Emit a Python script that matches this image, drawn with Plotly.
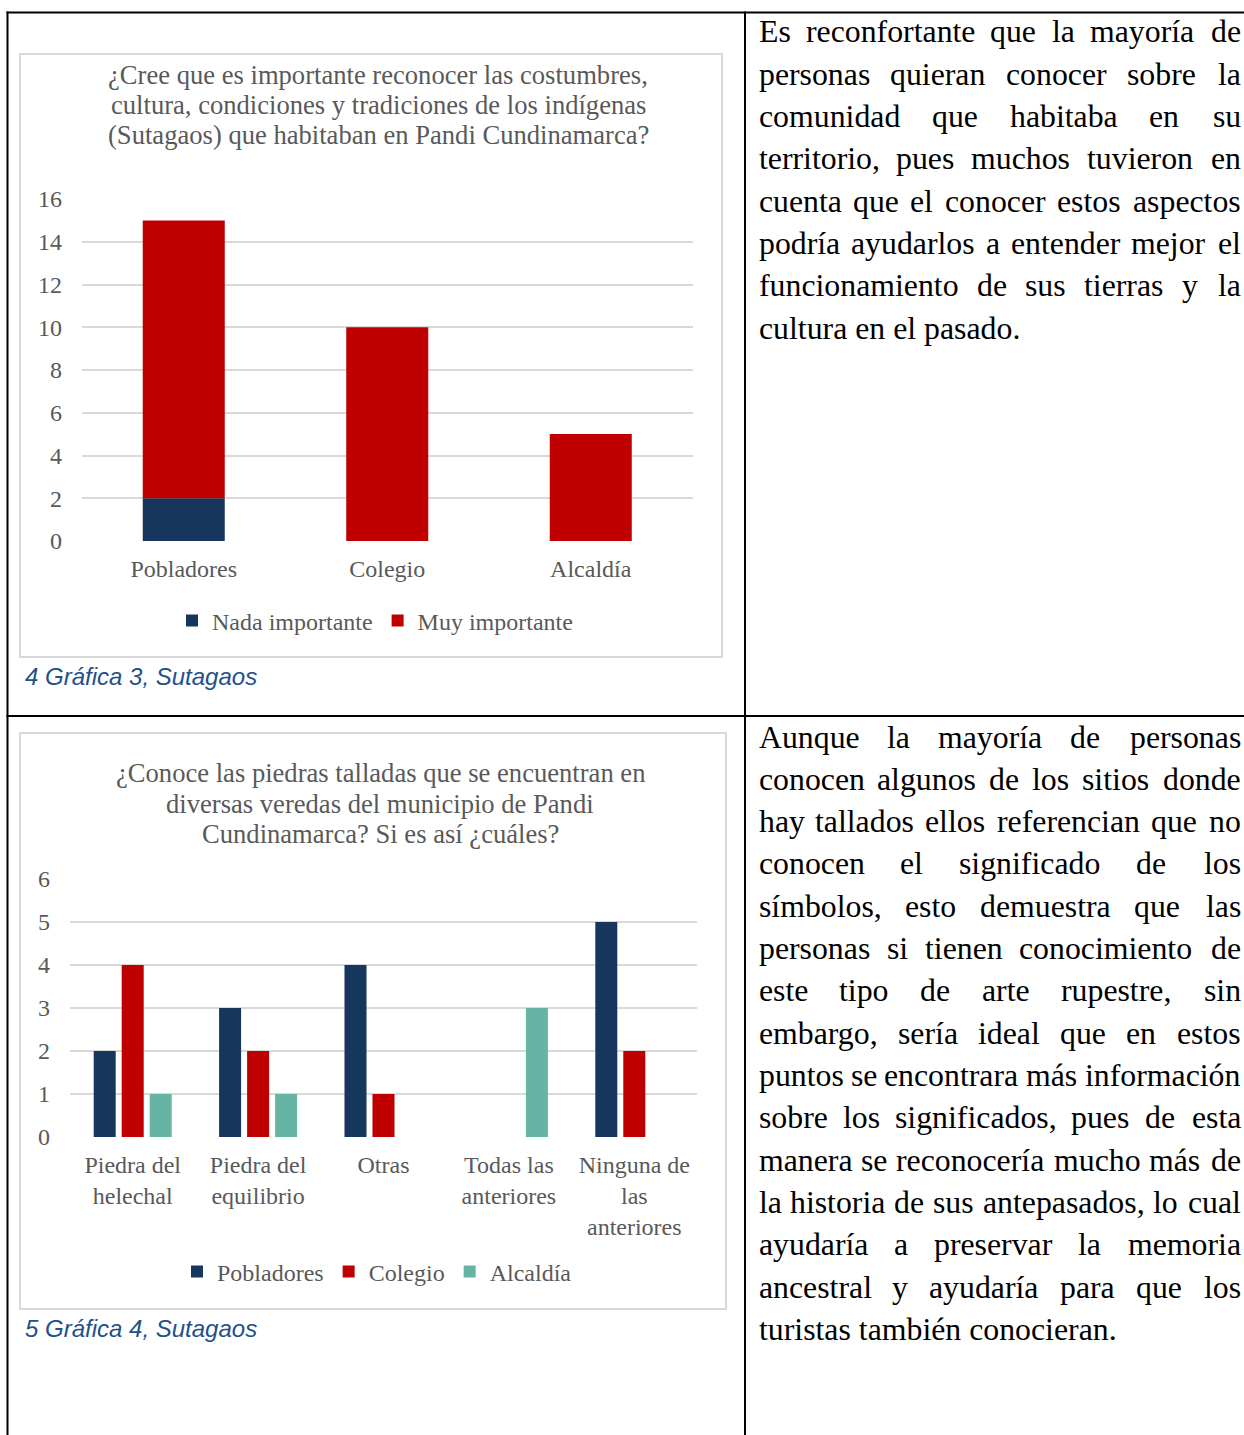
import plotly.graph_objects as go

W, H = 1244, 1435

def px(x):
    return x / W

def py(y):
    return 1 - y / H

# ---------------- data ----------------
# Chart 1 (Gráfica 3)
title1_lines = [
    "¿Cree que es importante reconocer las costumbres,",
    "cultura, condiciones y tradiciones de los indígenas",
    "(Sutagaos) que habitaban en Pandi Cundinamarca?",
]
cats1 = ["Pobladores", "Colegio", "Alcaldía"]
nada_importante = [2, 0, 0]
muy_importante = [13, 10, 5]
y1_ticks = [0, 2, 4, 6, 8, 10, 12, 14, 16]
caption1 = "4 Gráfica 3, Sutagaos"

# Chart 2 (Gráfica 4)
title2_lines = [
    "¿Conoce las piedras talladas que se encuentran en",
    "diversas veredas del municipio de Pandi",
    "Cundinamarca? Si es así ¿cuáles?",
]
cats2 = ["Piedra del<br>helechal", "Piedra del<br>equilibrio", "Otras",
         "Todas las<br>anteriores", "Ninguna de<br>las<br>anteriores"]
pobladores = [2, 3, 4, 0, 5]
colegio = [4, 2, 1, 0, 2]
alcaldia = [1, 1, 0, 3, 0]
y2_ticks = [0, 1, 2, 3, 4, 5, 6]
caption2 = "5 Gráfica 4, Sutagaos"

# Body text (justified lines)
para1 = [
    "Es reconfortante que la mayoría de",
    "personas quieran conocer sobre la",
    "comunidad que habitaba en su",
    "territorio, pues muchos tuvieron en",
    "cuenta que el conocer estos aspectos",
    "podría ayudarlos a entender mejor el",
    "funcionamiento de sus tierras y la",
    "cultura en el pasado.",
]
para2 = [
    "Aunque la mayoría de personas",
    "conocen algunos de los sitios donde",
    "hay tallados ellos referencian que no",
    "conocen el significado de los",
    "símbolos, esto demuestra que las",
    "personas si tienen conocimiento de",
    "este tipo de arte rupestre, sin",
    "embargo, sería ideal que en estos",
    "puntos se encontrara más información",
    "sobre los significados, pues de esta",
    "manera se reconocería mucho más de",
    "la historia de sus antepasados, lo cual",
    "ayudaría a preservar la memoria",
    "ancestral y ayudaría para que los",
    "turistas también conocieran.",
]

# ---------------- styles ----------------
NAVY = "#17365D"
RED = "#C00000"
TEAL = "#66B5A4"
GRAY_TXT = "#595959"
GRID = "#D9D9D9"
SERIF = "Liberation Serif, Times New Roman, serif"
SANS = "Liberation Sans, Arial, sans-serif"
CAP_COLOR = "#24508A"

fig = go.Figure()

# Chart 1: stacked bars (explicit base)
bw1 = 0.403
fig.add_trace(go.Bar(x=cats1, y=nada_importante, name="Nada importante",
                     marker=dict(color=NAVY, line=dict(width=0)),
                     width=bw1, offset=-bw1 / 2, offsetgroup="s",
                     xaxis="x", yaxis="y", legend="legend"))
fig.add_trace(go.Bar(x=cats1, y=muy_importante, base=nada_importante, name="Muy importante",
                     marker=dict(color=RED, line=dict(width=0)),
                     width=bw1, offset=-bw1 / 2, offsetgroup="s",
                     xaxis="x", yaxis="y", legend="legend"))

# Chart 2: grouped bars
for name, vals, col in [("Pobladores", pobladores, NAVY),
                        ("Colegio", colegio, RED),
                        ("Alcaldía", alcaldia, TEAL)]:
    fig.add_trace(go.Bar(x=cats2, y=vals, name=name,
                         marker=dict(color=col, line=dict(width=0)),
                         xaxis="x2", yaxis="y2", legend="legend2"))

axis_font = dict(family=SERIF, size=24, color=GRAY_TXT)

fig.update_layout(
    width=W, height=H,
    margin=dict(l=0, r=0, t=0, b=0, pad=0, autoexpand=False),
    paper_bgcolor="white", plot_bgcolor="white",
    barmode="group", bargap=0.33, bargroupgap=0.214,
    showlegend=True,
    xaxis=dict(domain=[px(82), px(692.5)], anchor="y", type="category",
               showgrid=False, zeroline=False, showline=False, ticks="",
               tickfont=axis_font, ticklabelstandoff=11, automargin=False),
    yaxis=dict(domain=[py(541), py(199)], anchor="x", range=[0, 16],
               tickvals=y1_ticks, showgrid=True, gridcolor=GRID, gridwidth=1.5,
               zeroline=False, showline=False, ticks="",
               tickfont=axis_font, ticklabelstandoff=19, automargin=False),
    xaxis2=dict(domain=[px(70), px(697)], anchor="y2", type="category",
                showgrid=False, zeroline=False, showline=False, ticks="",
                tickfont=axis_font, ticklabelstandoff=11, automargin=False),
    yaxis2=dict(domain=[py(1137), py(879)], anchor="x2", range=[0, 6],
                tickvals=y2_ticks, showgrid=True, gridcolor=GRID, gridwidth=1.5,
                zeroline=False, showline=False, ticks="",
                tickfont=axis_font, ticklabelstandoff=19, automargin=False),
    legend=dict(x=px(375), y=py(621), xanchor="center", yanchor="middle",
                orientation="h", font=axis_font, bgcolor="rgba(0,0,0,0)",
                traceorder="normal"),
    legend2=dict(x=px(377), y=py(1272), xanchor="center", yanchor="middle",
                 orientation="h", font=axis_font, bgcolor="rgba(0,0,0,0)",
                 traceorder="normal"),
)

shapes = []
# table lines
line_style = dict(color="black", width=2)
shapes.append(dict(type="line", xref="paper", yref="paper", x0=px(6.5), x1=px(1244), y0=py(12.5), y1=py(12.5), line=line_style))
shapes.append(dict(type="line", xref="paper", yref="paper", x0=px(7.5), x1=px(7.5), y0=py(11.5), y1=py(1435), line=line_style))
shapes.append(dict(type="line", xref="paper", yref="paper", x0=px(745), x1=px(745), y0=py(11.5), y1=py(1435), line=line_style))
shapes.append(dict(type="line", xref="paper", yref="paper", x0=px(6.5), x1=px(1244), y0=py(716), y1=py(716), line=line_style))
# chart frames
frame = dict(color=GRID, width=2)
shapes.append(dict(type="rect", xref="paper", yref="paper", x0=px(20), x1=px(722), y0=py(657), y1=py(54), line=frame, layer="below"))
shapes.append(dict(type="rect", xref="paper", yref="paper", x0=px(20), x1=px(726), y0=py(1309), y1=py(733), line=frame, layer="below"))
fig.update_layout(shapes=shapes)

annotations = []
title_font = dict(family=SERIF, size=26.6, color=GRAY_TXT)
for i, t in enumerate(title1_lines):
    annotations.append(dict(text=t, x=px(378), y=py(75 + 30 * i), xref="paper", yref="paper",
                            xanchor="center", yanchor="middle", showarrow=False, font=title_font))
for i, t in enumerate(title2_lines):
    annotations.append(dict(text=t, x=px(380), y=py(773 + 30.5 * i), xref="paper", yref="paper",
                            xanchor="center", yanchor="middle", showarrow=False, font=title_font))

cap_font = dict(family=SANS, size=24, color=CAP_COLOR)
annotations.append(dict(text="<i>" + caption1 + "</i>", x=px(22.5), y=py(677), xref="paper", yref="paper",
                        xanchor="left", yanchor="middle", showarrow=False, font=cap_font))
annotations.append(dict(text="<i>" + caption2 + "</i>", x=px(22.5), y=py(1328), xref="paper", yref="paper",
                        xanchor="left", yanchor="middle", showarrow=False, font=cap_font))

# Times New Roman advance widths (per 1000 em)
TW = {" ": 250, ",": 250, ".": 250,
      "a": 444, "b": 500, "c": 444, "d": 500, "e": 444, "f": 333, "g": 500, "h": 500,
      "i": 278, "j": 278, "k": 500, "l": 278, "m": 778, "n": 500, "o": 500, "p": 500,
      "q": 500, "r": 333, "s": 389, "t": 278, "u": 500, "v": 500, "w": 722, "x": 500,
      "y": 500, "z": 444, "á": 444, "é": 444, "í": 278, "ó": 500, "ú": 500, "ñ": 500,
      "A": 722, "E": 611}
BODY_SIZE = 31.8
body_font = dict(family=SERIF, size=BODY_SIZE, color="black")
LEFT, RIGHT = 759, 1240
PAD = 2.5  # annotation inner padding compensation

def wlen(s):
    return sum(TW.get(ch, 500) for ch in s) * BODY_SIZE / 1000

def add_paragraph(lines, y0, dy):
    for i, line in enumerate(lines):
        yy = py(y0 + dy * i)
        last = i == len(lines) - 1
        words = line.split(" ")
        if last or len(words) == 1:
            annotations.append(dict(text=line, x=px(LEFT - PAD), y=yy, xref="paper", yref="paper",
                                    xanchor="left", yanchor="middle", showarrow=False, font=body_font))
            continue
        widths = [wlen(w) for w in words]
        gap = (RIGHT - LEFT - sum(widths)) / (len(words) - 1)
        xcur = LEFT
        for j, w in enumerate(words):
            if j == len(words) - 1:
                annotations.append(dict(text=w, x=px(RIGHT + PAD), y=yy, xref="paper", yref="paper",
                                        xanchor="right", yanchor="middle", showarrow=False, font=body_font))
            else:
                annotations.append(dict(text=w, x=px(xcur - PAD), y=yy, xref="paper", yref="paper",
                                        xanchor="left", yanchor="middle", showarrow=False, font=body_font))
            xcur += widths[j] + gap

add_paragraph(para1, 32, 42.3)
add_paragraph(para2, 737, 42.33)

fig.update_layout(annotations=annotations)

fig.write_html("out.html", config={"displayModeBar": False},
               post_script="document.body.style.margin='0';document.body.style.overflow='hidden';")
